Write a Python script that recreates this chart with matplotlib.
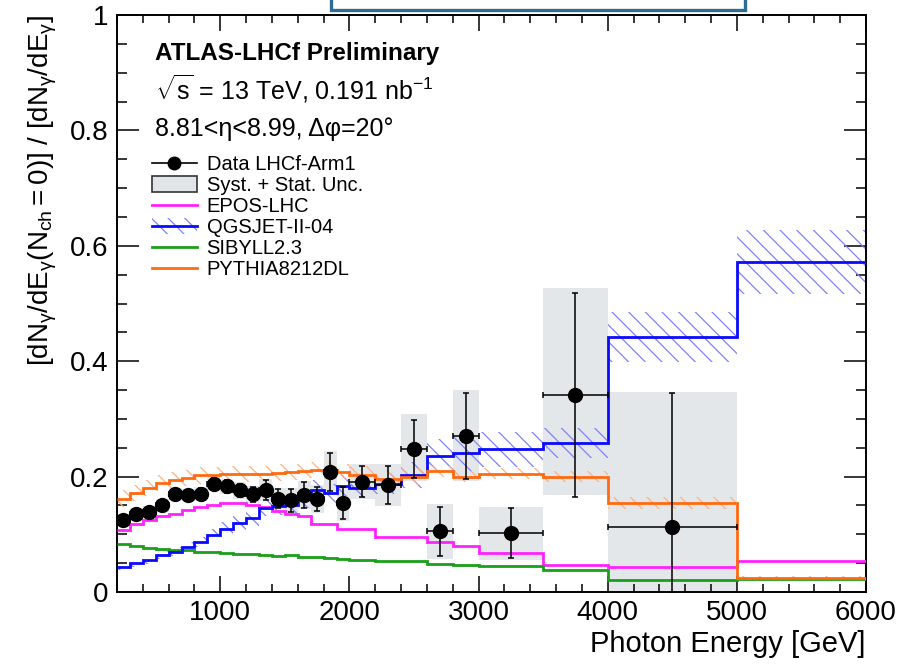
import matplotlib
matplotlib.use("Agg")
import numpy as np
import matplotlib.pyplot as plt
from matplotlib.patches import Patch, Rectangle
from matplotlib.lines import Line2D
from matplotlib.ticker import MultipleLocator, FuncFormatter

plt.rcParams["font.family"] = ["Liberation Sans", "DejaVu Sans"]
plt.rcParams["mathtext.fontset"] = "custom"
plt.rcParams["mathtext.rm"] = "Liberation Sans"
plt.rcParams["mathtext.it"] = "Liberation Sans"
plt.rcParams["mathtext.bf"] = "Liberation Sans:bold"
plt.rcParams["hatch.linewidth"] = 0.9

# ---- binning (GeV) ----
model_edges = [200, 300, 400, 500, 600, 700, 800, 900, 1000, 1100, 1200, 1300,
               1400, 1500, 1600, 1700, 1800, 1900, 2000, 2200, 2400, 2600,
               2800, 3000, 3500, 4000, 5000, 6000]

# ---- measured ratio, LHCf Arm1 ----
data_e = [250, 350, 450, 550, 650, 750, 850, 950, 1050, 1150, 1250, 1350, 1450,
          1550, 1650, 1750, 1850, 1950, 2100, 2300, 2500, 2700, 2900, 3250,
          3750, 4500]
data_ex = [50, 50, 50, 50, 50, 50, 50, 50, 50, 50, 50, 50, 50, 50, 50, 50, 50,
           50, 100, 100, 100, 100, 100, 250, 250, 500]
data_y = [0.125, 0.135, 0.139, 0.150, 0.170, 0.168, 0.170, 0.188, 0.183, 0.176,
          0.169, 0.177, 0.162, 0.159, 0.168, 0.161, 0.208, 0.154, 0.191, 0.185,
          0.248, 0.105, 0.270, 0.102, 0.341, 0.113]
stat_up = [0.008, 0.008, 0.008, 0.009, 0.009, 0.009, 0.010, 0.010, 0.011, 0.012,
           0.013, 0.017, 0.016, 0.020, 0.022, 0.021, 0.033, 0.028, 0.027, 0.033,
           0.050, 0.042, 0.075, 0.043, 0.177, 0.232]
stat_dn = [0.008, 0.008, 0.008, 0.009, 0.009, 0.009, 0.010, 0.010, 0.011, 0.012,
           0.013, 0.017, 0.016, 0.020, 0.022, 0.021, 0.033, 0.028, 0.027, 0.033,
           0.050, 0.042, 0.075, 0.043, 0.176, 0.113]
tot_up = [0.010, 0.010, 0.010, 0.011, 0.011, 0.011, 0.012, 0.012, 0.013, 0.014,
          0.015, 0.019, 0.018, 0.022, 0.025, 0.024, 0.036, 0.031, 0.030, 0.036,
          0.060, 0.048, 0.080, 0.046, 0.186, 0.234]
tot_dn = [0.010, 0.010, 0.010, 0.011, 0.011, 0.011, 0.012, 0.012, 0.013, 0.014,
          0.015, 0.019, 0.018, 0.022, 0.025, 0.024, 0.036, 0.031, 0.030, 0.036,
          0.055, 0.048, 0.078, 0.047, 0.173, 0.113]

# ---- model predictions ----
epos = [0.107, 0.118, 0.125, 0.132, 0.135, 0.142, 0.148, 0.151, 0.155, 0.154,
        0.151, 0.148, 0.141, 0.136, 0.132, 0.118, 0.118, 0.110, 0.110, 0.095,
        0.095, 0.087, 0.080, 0.067, 0.046, 0.044, 0.053]
qgsjet = [0.044, 0.050, 0.055, 0.064, 0.070, 0.078, 0.087, 0.099, 0.110, 0.119,
          0.128, 0.145, 0.149, 0.151, 0.162, 0.177, 0.171, 0.184, 0.181, 0.188,
          0.203, 0.236, 0.241, 0.247, 0.259, 0.442, 0.572]
qgsjet_unc = [0.006, 0.006, 0.007, 0.007, 0.008, 0.008, 0.009, 0.010, 0.011,
              0.012, 0.013, 0.014, 0.015, 0.015, 0.016, 0.017, 0.017, 0.018,
              0.018, 0.019, 0.022, 0.030, 0.032, 0.030, 0.026, 0.043, 0.055]
sibyll = [0.083, 0.080, 0.077, 0.075, 0.073, 0.072, 0.070, 0.069, 0.068, 0.066,
          0.065, 0.064, 0.062, 0.064, 0.061, 0.060, 0.059, 0.057, 0.056, 0.054,
          0.053, 0.049, 0.046, 0.045, 0.038, 0.021, 0.022]
pythia = [0.162, 0.171, 0.180, 0.189, 0.194, 0.198, 0.202, 0.203, 0.204, 0.204,
          0.204, 0.204, 0.207, 0.208, 0.210, 0.212, 0.212, 0.208, 0.203, 0.196,
          0.200, 0.209, 0.200, 0.205, 0.200, 0.154, 0.024]
pythia_unc = [0.014, 0.014, 0.014, 0.014, 0.014, 0.014, 0.014, 0.014, 0.014,
              0.014, 0.014, 0.014, 0.014, 0.014, 0.014, 0.014, 0.014, 0.014,
              0.015, 0.015, 0.015, 0.010, 0.010, 0.010, 0.010, 0.010, 0.004]

x_ticks = [1000, 2000, 3000, 4000, 5000, 6000]
y_ticks = [0, 0.2, 0.4, 0.6, 0.8, 1.0]

c_epos = "#ff22ff"
c_qgs = "#0a0aff"
c_sib = "#19a019"
c_pyt = "#ff6a10"
c_qgs_h = "#8080ff"
c_pyt_h = "#ffb080"
c_sys = "#e2e5e7"

fig = plt.figure(figsize=(9.08, 6.68), dpi=100)
fig.patch.set_facecolor("white")
ax = fig.add_axes([117 / 908, 76 / 668, 749 / 908, 577 / 668])

# uncertainty boxes for the measurement
e = np.array(data_e, float)
ex = np.array(data_ex, float)
y = np.array(data_y)
lo = y - np.array(tot_dn)
hi = y + np.array(tot_up)
ax.bar(e, hi - lo, bottom=lo, width=2 * ex, color=c_sys, alpha=0.9,
       linewidth=0, zorder=1)

# hatched model uncertainty bands
q = np.array(qgsjet)
qu = np.array(qgsjet_unc)
ax.stairs(q + qu, model_edges, baseline=q - qu, fill=True, facecolor="none",
          edgecolor=c_qgs_h, hatch="\\\\", linewidth=0, zorder=2)
p = np.array(pythia)
pu = np.array(pythia_unc)
ax.stairs(p + pu, model_edges, baseline=p - pu, fill=True, facecolor="none",
          edgecolor=c_pyt_h, hatch="\\\\", linewidth=0, zorder=2)

# model histograms
ax.stairs(epos, model_edges, baseline=None, color=c_epos, lw=2.0, zorder=3)
ax.stairs(sibyll, model_edges, baseline=None, color=c_sib, lw=2.0, zorder=3)
ax.stairs(qgsjet, model_edges, baseline=None, color=c_qgs, lw=2.0, zorder=3)
ax.stairs(pythia, model_edges, baseline=None, color=c_pyt, lw=2.0, zorder=3)

# data points
ax.errorbar(e, y, xerr=ex, yerr=[stat_dn, stat_up], fmt="o", color="black",
            markersize=10, elinewidth=1.1, capsize=2.5, capthick=1.1, zorder=5)

ax.set_xlim(200, 6000)
ax.set_ylim(0, 1)
ax.set_xticks(x_ticks)
ax.set_yticks(y_ticks)
ax.xaxis.set_minor_locator(MultipleLocator(200))
ax.yaxis.set_minor_locator(MultipleLocator(0.05))
ax.yaxis.set_major_formatter(FuncFormatter(lambda v, _: f"{v:g}"))
ax.tick_params(axis="both", which="both", direction="in", top=True, right=True,
               labelsize=20, width=1.1, colors="black")
ax.tick_params(axis="x", which="major", length=11.5, pad=6)
ax.tick_params(axis="x", which="minor", length=5.5)
ax.tick_params(axis="y", which="major", length=16, pad=6)
ax.tick_params(axis="y", which="minor", length=7)
for s in ax.spines.values():
    s.set_linewidth(1.4)

ax.set_xlabel("Photon Energy [GeV]", fontsize=21, loc="right", labelpad=3)
ax.set_ylabel(r"$[dN_{\gamma}/dE_{\gamma}(N_{ch}=0)]\ /\ [dN_{\gamma}/dE_{\gamma}]$",
              fontsize=20, loc="top", labelpad=8)

ax.text(0.051, 0.934, "ATLAS-LHCf Preliminary", transform=ax.transAxes,
        fontsize=17.5, fontweight="bold", va="center", ha="left")
ax.text(0.051, 0.872, r"$\sqrt{s}$ = 13 TeV, 0.191 nb$^{-1}$",
        transform=ax.transAxes, fontsize=18, va="center", ha="left")
ax.text(0.051, 0.802, "8.81<η<8.99, Δφ=20°", transform=ax.transAxes,
        fontsize=18, va="center", ha="left")

handles = [
    Line2D([], [], color="black", marker="o", markersize=9, lw=1.2),
    Patch(facecolor=c_sys, edgecolor="#333333", linewidth=1.2),
    Line2D([], [], color=c_epos, lw=2),
    (Patch(facecolor="none", edgecolor=c_qgs_h, hatch="\\\\", linewidth=0),
     Line2D([], [], color=c_qgs, lw=2)),
    Line2D([], [], color=c_sib, lw=2),
    Line2D([], [], color=c_pyt, lw=2),
]
labels = ["Data LHCf-Arm1", "Syst. + Stat. Unc.", "EPOS-LHC", "QGSJET-II-04",
          "SIBYLL2.3", "PYTHIA8212DL"]
ax.legend(handles, labels, loc="upper left", bbox_to_anchor=(0.047, 0.757),
          frameon=False, fontsize=14.5, handlelength=2.2, handleheight=0.85,
          handletextpad=0.5, labelspacing=0.1, borderpad=0, borderaxespad=0)

# header frame partially visible at the top edge
fig.patches.append(Rectangle((331 / 908, 658 / 668), 414 / 908, 30 / 668,
                             transform=fig.transFigure, facecolor="white",
                             edgecolor="#2f6b93", linewidth=2.4))

fig.savefig("out.png", dpi=100)
